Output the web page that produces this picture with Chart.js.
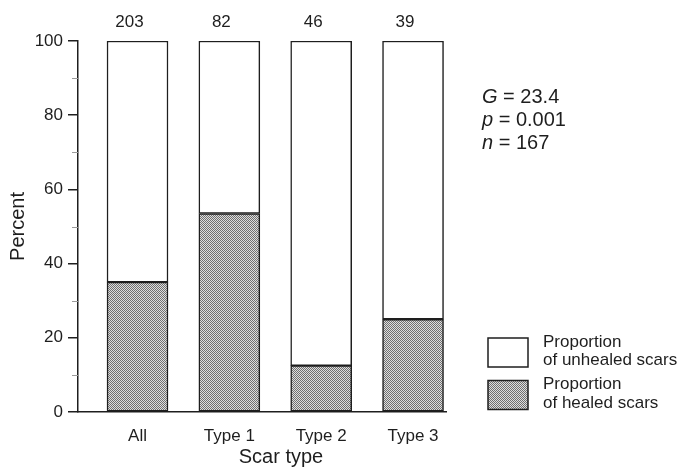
<!DOCTYPE html>
<html><head><meta charset="utf-8">
<script src="https://cdn.jsdelivr.net/npm/chart.js@4.4.1/dist/chart.umd.min.js"></script>
<style>html,body{margin:0;padding:0;background:#fff}</style>
</head><body>
<canvas id="c" width="687" height="468" style="display:block;width:687px;height:468px"></canvas>
<script>
// ---- data ----
const categories = ['All', 'Type 1', 'Type 2', 'Type 3'];
const healed = [35, 53.5, 12.5, 25];
const unhealed = [65, 46.5, 87.5, 75];
const counts = ['203', '82', '46', '39'];
const yTicks = [0, 20, 40, 60, 80, 100];
const yMinorTicks = [10, 30, 50, 70, 90];
const statLines = [['G', ' = 23.4'], ['p', ' = 0.001'], ['n', ' = 167']];
const legendLabels = [['Proportion', 'of unhealed scars'], ['Proportion', 'of healed scars']];
const xTitle = 'Scar type';
const yTitle = 'Percent';

const FONT = "'Liberation Sans', Arial, Helvetica, sans-serif";
const INK = '#1e1e1e';

const canvas = document.getElementById('c');
const ctx0 = canvas.getContext('2d');
function makePattern() {
  const c = document.createElement('canvas');
  c.width = 4; c.height = 4;
  const g = c.getContext('2d');
  g.fillStyle = '#dedede';
  g.fillRect(0, 0, 4, 4);
  g.fillStyle = '#707070';
  for (let y = 0; y < 4; y++) for (let x = 0; x < 4; x++) if ((x + y) % 2 === 0) g.fillRect(x, y, 1, 1);
  return ctx0.createPattern(c, 'repeat');
}
const pattern = makePattern();

const extras = {
  id: 'extras',
  afterDraw(chart) {
    const ctx = chart.ctx;
    const xs = chart.scales.x, ys = chart.scales.y;
    ctx.save();
    // minor ticks
    ctx.strokeStyle = '#9a9a9a';
    ctx.lineWidth = 1;
    yMinorTicks.forEach(v => {
      const py = Math.round(ys.getPixelForValue(v)) + 0.5;
      ctx.beginPath(); ctx.moveTo(xs.left - 6, py); ctx.lineTo(xs.left, py); ctx.stroke();
    });
    // counts above bars
    ctx.fillStyle = INK;
    ctx.font = '17px ' + FONT;
    ctx.textAlign = 'center';
    ctx.textBaseline = 'middle';
    counts.forEach((t, i) => {
      ctx.fillText(t, xs.getPixelForValue(i + 1) - 8, 22);
    });
    // x title
    ctx.font = '20px ' + FONT;
    ctx.fillText(xTitle, 281, 457);
    // stats
    ctx.textAlign = 'left';
    statLines.forEach((ln, i) => {
      const y = 97 + i * 23;
      ctx.font = 'italic 20px ' + FONT;
      ctx.fillText(ln[0], 482, y);
      const w = ctx.measureText(ln[0]).width;
      ctx.font = '20px ' + FONT;
      ctx.fillText(ln[1], 482 + w, y);
    });
    // legend
    const ds = chart.data.datasets;
    const order = [1, 0];
    order.forEach((di, k) => {
      const top = 338 + k * 42.5;
      ctx.fillStyle = ds[di].backgroundColor;
      ctx.fillRect(488, top, 40, 29);
      ctx.strokeStyle = INK;
      ctx.lineWidth = 1.5;
      ctx.strokeRect(488, top, 40, 29);
      ctx.fillStyle = INK;
      ctx.font = '17px ' + FONT;
      const lines = legendLabels[k];
      lines.forEach((t, j) => ctx.fillText(t, 543, top + 4 + j * 18.5));
    });
    ctx.restore();
  }
};

new Chart(canvas, {
  type: 'bar',
  data: {
    datasets: [
      {
        label: 'Proportion of healed scars',
        data: categories.map((c, i) => ({ x: i + 1, y: healed[i] })),
        backgroundColor: pattern,
        borderColor: INK,
        borderWidth: 1.5,
        borderSkipped: false,
        barThickness: 61,
        grouped: false
      },
      {
        label: 'Proportion of unhealed scars',
        data: categories.map((c, i) => ({ x: i + 1, y: unhealed[i] })),
        backgroundColor: '#ffffff',
        borderColor: INK,
        borderWidth: 1.5,
        borderSkipped: false,
        barThickness: 61,
        grouped: false
      }
    ]
  },
  options: {
    responsive: false,
    animation: false,
    devicePixelRatio: 1,
    layout: { padding: { left: 0, top: 41, right: 241, bottom: 0 } },
    plugins: { legend: { display: false }, tooltip: { enabled: false } },
    scales: {
      x: {
        type: 'linear',
        offset: false,
        min: 0.352,
        max: 4.359,
        afterBuildTicks: axis => { axis.ticks = categories.map((c, i) => ({ value: i + 1 })); },
        ticks: {
          callback: v => categories[Math.round(v) - 1],
          font: { size: 17, family: FONT },
          color: INK,
          padding: 6,
          maxRotation: 0,
          autoSkip: false
        },
        grid: { display: false },
        border: { display: true, color: INK, width: 1.5 },
        afterFit: s => { s.height = 56; }
      },
      y: {
        stacked: true,
        min: 0,
        max: 100,
        afterBuildTicks: axis => { axis.ticks = yTicks.map(v => ({ value: v })); },
        ticks: { font: { size: 17, family: FONT }, color: INK, padding: 5 },
        grid: { drawOnChartArea: false, drawTicks: true, tickLength: 10, color: INK, lineWidth: 1.5 },
        border: { display: true, color: INK, width: 1.5 },
        title: { display: true, text: yTitle, font: { size: 20, family: FONT }, color: INK, padding: { top: 6, bottom: 0 } },
        afterFit: s => { s.width = 78; }
      }
    }
  },
  plugins: [extras]
});
</script>
</body></html>
